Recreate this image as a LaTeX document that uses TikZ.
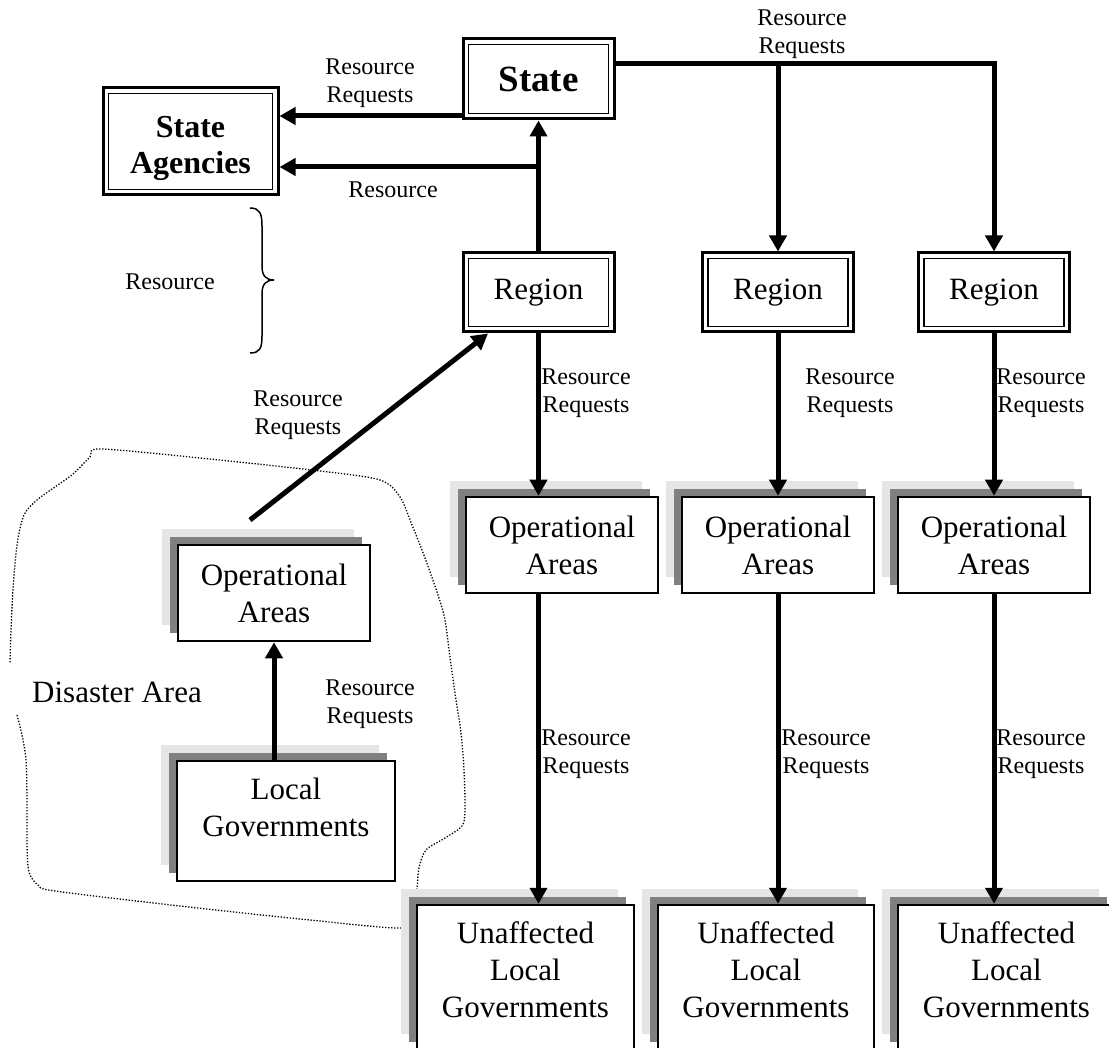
\documentclass[tikz,border=0pt]{standalone}
\usepackage{fontspec}
\setmainfont{Liberation Serif}
\usetikzlibrary{arrows.meta,shadows,calc}
\newcommand\bigf{\fontsize{31}{37}\selectfont}
\newcommand\smf{\fontsize{24}{28}\selectfont}
\begin{document}
\begin{tikzpicture}[x=1pt,y=-1pt,
  dbl/.style={draw, line width=3pt, fill=white, inner sep=0pt, align=center,
    path picture={\draw[line width=1.5pt] ([shift={(5.5pt,-5.5pt)}]path picture bounding box.north west) rectangle ([shift={(-5.5pt,5.5pt)}]path picture bounding box.south east);}},
  sbox/.style={draw, line width=2.5pt, fill=white, inner sep=0pt, align=center,
    general shadow={fill=black!10, shadow xshift=-16pt, shadow yshift=16pt},
    general shadow={fill=black!50, shadow xshift=-8pt, shadow yshift=8pt}},
  arr/.style={line width=5pt, -{Triangle[length=16pt,width=17pt]}},
  lbl/.style={font=\smf, align=center, inner sep=0pt},
  big/.style={font=\bigf, align=center, inner sep=0pt},
  outline/.style={line width=1.3pt, dash pattern=on 1.3pt off 1.7pt},
]
\useasboundingbox (0,0) rectangle (1109,1048);
\clip (0,0) rectangle (1109,1048);

% disaster area outline
\draw[outline] plot[smooth, tension=0.5] coordinates {
 (17,715) (22,735) (26,760) (27,800) (27,845) (29,872) (38,885) (55,891)
 (180,906) (310,920) (402,928) (414,915) (417,889) (419,868) (426,850)
 (445,838) (462,826) (465,810) (464,770) (461,733) (456,700) (451,665)
 (445,620) (438,595) (425,558) (412,525) (400,497) (380,480) (320,471)
 (200,458) (100,449) (90,457) (73,474) (55,487) (37,500) (24,515)
 (17,545) (13,590) (11,630) (10,663)};

% brace
\draw[line width=1.5pt] (250,208) .. controls (260,208) and (262,214) .. (262,226)
  -- (262,266) .. controls (262,276) and (266,280) .. (274,280)
  .. controls (266,280) and (262,284) .. (262,294)
  -- (262,336) .. controls (262,348) and (260,353) .. (250,353);

% double boxes
\node[dbl, minimum width=151pt, minimum height=80pt, font=\fontsize{37}{44}\selectfont\bfseries] (st) at (538.5,79) {State};
\node[dbl, minimum width=175pt, minimum height=107pt] (sa) at (190.5,141.5) {};
\node[font=\fontsize{32}{36}\selectfont\bfseries, align=center, inner sep=0pt] (satxt) at (190.5,148.5) {State\\Agencies};
\node[dbl, minimum width=151pt, minimum height=79pt, font=\bigf] (r1) at (538.5,292.5) {Region};
\node[dbl, minimum width=151pt, minimum height=79pt, font=\bigf] (r2) at (778,292.5) {Region};
\node[dbl, minimum width=151pt, minimum height=79pt, font=\bigf] (r3) at (994,292.5) {Region};

% shadowed boxes
\node[sbox, minimum width=192pt, minimum height=96pt, font=\bigf] (o1) at (562,545) {Operational\\Areas};
\node[sbox, minimum width=192pt, minimum height=96pt, font=\bigf] (o2) at (778,545) {Operational\\Areas};
\node[sbox, minimum width=192pt, minimum height=96pt, font=\bigf] (o3) at (994,545) {Operational\\Areas};
\node[sbox, minimum width=192pt, minimum height=96pt, font=\bigf] (dop) at (274,593) {Operational\\Areas};
\node[sbox, minimum width=218pt, minimum height=120pt] (lg) at (286,821) {};
\node[big] (lgt) at (286,807) {Local\\Governments};
\node[sbox, minimum width=217pt, minimum height=145pt] (u1) at (525.5,977.5) {};
\node[sbox, minimum width=216pt, minimum height=145pt] (u2) at (766,977.5) {};
\node[sbox, minimum width=217pt, minimum height=145pt] (u3) at (1006.5,977.5) {};
\node[big] (u1t) at (525.5,970) {Unaffected\\Local\\Governments};
\node[big] (u2t) at (766,970) {Unaffected\\Local\\Governments};
\node[big] (u3t) at (1006.5,970) {Unaffected\\Local\\Governments};
\node[big] (da) at (117,692.5) {Disaster Area};

% connectors
\coordinate (a1) at ([yshift=-37pt]st.west);
\draw[arr] (a1) -- (a1 -| sa.east);
\draw[arr] (r1.north) -- (st.south);
\coordinate (a2) at (538.5,167);
\draw[arr] (a2) -- (a2 -| sa.east);
\coordinate (h0) at ([yshift=15pt]st.east);
\draw[arr] (h0) -| (r3.north);
\draw[arr] (h0 -| r2.north) -- (r2.north);
\draw[arr] (r1.south) -- (r1.south |- o1.north);
\draw[arr] (r2.south) -- (o2.north);
\draw[arr] (r3.south) -- (o3.north);
\draw[arr] (r1.south |- o1.south) -- (r1.south |- u1.north);
\draw[arr] (o2.south) -- (o2.south |- u2.north);
\draw[arr] (o3.south) -- (o3.south |- u3.north);
\draw[arr] (dop.south |- lg.north) -- (dop.south);
\coordinate (ds) at (250,520);
\draw[arr] (ds) -- ($(r1.south west)+(26.5,0)$);

% labels
\node[lbl] (l0) at (802,34) {Resource\\Requests};
\node[lbl] (l1) at (370,83.5) {Resource\\Requests};
\node[lbl] (l2) at (393,190) {Resource};
\node[lbl] (l3) at (170,282) {Resource};
\node[lbl] (l4) at (298,415) {Resource\\Requests};
\node[lbl] (l5) at (586,393) {Resource\\Requests};
\node[lbl] (l6) at (850,393) {Resource\\Requests};
\node[lbl] (l7) at (1041,393) {Resource\\Requests};
\node[lbl] (l8) at (586,754) {Resource\\Requests};
\node[lbl] (l9) at (826,754) {Resource\\Requests};
\node[lbl] (l10) at (1041,754) {Resource\\Requests};
\node[lbl] (l11) at (370,704) {Resource\\Requests};
\end{tikzpicture}
\end{document}
